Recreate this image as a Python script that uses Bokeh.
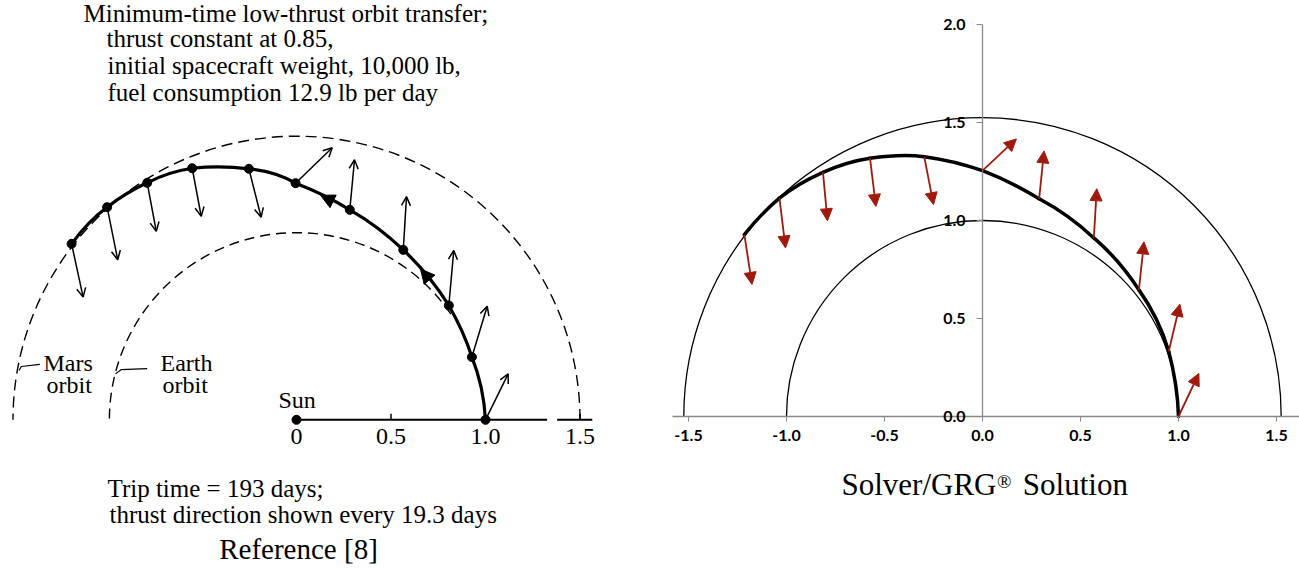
import math

from bokeh.core.properties import value
from bokeh.embed import file_html
from bokeh.layouts import row
from bokeh.models import (Arrow, ColumnDataSource, FixedTicker, Label, LinearAxis,
                          NormalHead, NumeralTickFormatter, OpenHead, Range1d)
from bokeh.plotting import figure
from bokeh.resources import INLINE

SERIF = "Liberation Serif"
SANS = "Lato"
RED = "#A0190D"
AXIS_GRAY = "#898989"

# ---------------------------------------------------------------------------
# Published solution, Reference [8] (distances in AU, Sun at origin)
# ---------------------------------------------------------------------------
ref_earth_r = 0.99
ref_mars_r = 1.50

# trajectory samples: thrust nodes alternating with readings midway between them
ref_path_x = [1.000, 0.977, 0.928, 0.876, 0.806, 0.694, 0.565, 0.427, 0.282, 0.145, -0.005,
              -0.120, -0.252, -0.402, -0.552, -0.676, -0.790, -0.899, -1.002, -1.099, -1.190]
ref_path_y = [0.000, 0.172, 0.332, 0.468, 0.605, 0.761, 0.899, 1.016, 1.111, 1.187, 1.252,
              1.302, 1.328, 1.338, 1.331, 1.302, 1.254, 1.196, 1.125, 1.040, 0.931]

# thrust nodes, every 19.3 days
ref_node_x = ref_path_x[::2]
ref_node_y = ref_path_y[::2]
# tips of the thrust-direction vectors
ref_thrust_x = [1.120, 1.009, 0.832, 0.582, 0.307, 0.189, -0.187, -0.504, -0.742, -0.946, -1.129]
ref_thrust_y = [0.243, 0.601, 0.896, 1.181, 1.376, 1.439, 1.072, 1.077, 0.998, 0.847, 0.649]

# direction-of-motion heads on the path
ref_dir_tail_x = [0.199, 0.707]
ref_dir_tail_y = [1.153, 0.738]
ref_dir_tip_x = [0.127, 0.656]
ref_dir_tip_y = [1.188, 0.798]

ref_axis_ticks = [0.0, 0.5, 1.0, 1.5]
ref_axis_labels = ["0", "0.5", "1.0", "1.5"]

# ---------------------------------------------------------------------------
# Solver/GRG solution
# ---------------------------------------------------------------------------
grg_orbit_r = [1.0, 1.524]

grg_path_x = [1.000, 0.985, 0.950, 0.887, 0.798, 0.690, 0.568, 0.434, 0.289, 0.144, 0.000,
              -0.147, -0.297, -0.421, -0.574, -0.694, -0.814, -0.933, -1.036, -1.130, -1.215]
grg_path_y = [0.000, 0.166, 0.332, 0.496, 0.646, 0.790, 0.911, 1.021, 1.111, 1.191, 1.254,
              1.297, 1.325, 1.331, 1.318, 1.291, 1.246, 1.185, 1.114, 1.026, 0.928]

grg_node_x = grg_path_x[::2]
grg_node_y = grg_path_y[::2]
grg_thrust_x = [1.104, 1.007, 0.824, 0.583, 0.314, 0.173, -0.250, -0.544, -0.791, -1.005, -1.176]
grg_thrust_y = [0.220, 0.573, 0.891, 1.162, 1.355, 1.416, 1.081, 1.072, 0.999, 0.860, 0.674]

grg_x_ticks = [-1.5, -1.0, -0.5, 0.0, 0.5, 1.0, 1.5]
grg_y_ticks = [0.0, 0.5, 1.0, 1.5, 2.0]

H = 571
# the rendered alphabetic baseline sits this fraction of the font size below the anchor
BASELINE_FIX = 0.38


def add_label(p, text, px, py, size, font=SERIF, align="left", left=0):
    """Place a text by its baseline position on the canvas (px from the left, py from the top)."""
    py_anchor = py - BASELINE_FIX * size
    p.add_layout(Label(x=px - left, y=H - py_anchor, x_units="screen", y_units="screen",
                       text=text, text_font=font, text_font_size=f"{size}px",
                       text_align=align, text_baseline="alphabetic", text_color="black"))


def smooth_path(p, xs, ys, **line):
    """Draw node-mid-node triples as quadratic curves passing through all three samples."""
    x0, y0, x1, y1, cx, cy = [], [], [], [], [], []
    for i in range(0, len(xs) - 2, 2):
        sx, sy = xs[i], ys[i]
        mx, my = xs[i + 1], ys[i + 1]
        ex, ey = xs[i + 2], ys[i + 2]
        x0.append(sx); y0.append(sy); x1.append(ex); y1.append(ey)
        cx.append(2 * mx - (sx + ex) / 2)
        cy.append(2 * my - (sy + ey) / 2)
    p.quadratic(x0=x0, y0=y0, x1=x1, y1=y1, cx=cx, cy=cy, line_cap="round", **line)


# ---------------------------------------------------------------------------
# Left panel
# ---------------------------------------------------------------------------
W1 = 660
PX1 = 189.0            # pixels per AU
SUN_SX, AXIS_SY = 296.0, 419.3

p1 = figure(width=W1, height=H, output_backend="svg", toolbar_location=None,
            x_range=Range1d(-SUN_SX / PX1, (W1 - SUN_SX) / PX1),
            y_range=Range1d(-(H - AXIS_SY) / PX1, AXIS_SY / PX1),
            x_axis_location=None, y_axis_location=None, min_border=0)
p1.grid.visible = False
p1.outline_line_color = None

# orbits
p1.arc(x=0, y=0, radius=ref_mars_r, start_angle=0, end_angle=math.pi,
       line_color="black", line_width=1.4, line_dash="11 6")
p1.arc(x=0, y=0, radius=ref_earth_r, start_angle=0.6, end_angle=math.pi,
       line_color="black", line_width=1.4, line_dash="10 6")

# Sun-line scale
p1.segment(x0=[0.0, 1.379], y0=[0, 0], x1=[1.326, 1.565], y1=[0, 0],
           line_color="black", line_width=2)
p1.segment(x0=ref_axis_ticks[1::2], y0=[0, 0], x1=ref_axis_ticks[1::2], y1=[0.032, 0.032],
           line_color="black", line_width=1.5)
p1.text(x=ref_axis_ticks, y=[0] * len(ref_axis_ticks), text=ref_axis_labels,
        y_offset=26 - BASELINE_FIX * 24,
        text_align="center", text_baseline="alphabetic",
        text_font=value(SERIF), text_font_size="24px", text_color="black")

# label leaders
p1.line([-1.468, -1.456, -1.358], [0.261, 0.282, 0.293], line_color="black", line_width=1.2)
p1.line([-0.958, -0.928, -0.790], [0.243, 0.265, 0.271], line_color="black", line_width=1.2)

# trajectory
smooth_path(p1, ref_path_x, ref_path_y, line_color="black", line_width=3.2)

ref_src = ColumnDataSource(dict(x0=ref_node_x, y0=ref_node_y, x1=ref_thrust_x, y1=ref_thrust_y))
p1.add_layout(Arrow(source=ref_src, x_start="x0", y_start="y0", x_end="x1", y_end="y1",
                    line_color="black", line_width=1.5,
                    end=OpenHead(size=9, line_color="black", line_width=1.5)))

dir_src = ColumnDataSource(dict(x0=ref_dir_tail_x, y0=ref_dir_tail_y,
                                x1=ref_dir_tip_x, y1=ref_dir_tip_y))
p1.add_layout(Arrow(source=dir_src, x_start="x0", y_start="y0", x_end="x1", y_end="y1",
                    line_alpha=0,
                    end=NormalHead(size=14, fill_color="black", line_color="black",
                                   line_width=1)))

p1.scatter(ref_node_x, ref_node_y, size=9, color="black")
p1.scatter([0], [0], size=9, color="black")

# texts
add_label(p1, "Minimum-time low-thrust orbit transfer;", 83, 22, 25)
add_label(p1, "thrust constant at 0.85,", 106, 47.3, 25)
add_label(p1, "initial spacecraft weight, 10,000 lb,", 107, 74.5, 25)
add_label(p1, "fuel consumption 12.9 lb per day", 107, 101.7, 25)
add_label(p1, "Mars", 43, 371.7, 24)
add_label(p1, "orbit", 46, 394, 24)
add_label(p1, "Earth", 160, 371.7, 24)
add_label(p1, "orbit", 162, 394, 24)
add_label(p1, "Sun", 278, 408.3, 24)
add_label(p1, "Trip time = 193 days;", 107, 497, 25)
add_label(p1, "thrust direction shown every 19.3 days", 109, 523.5, 25)
add_label(p1, "Reference [8]", 298, 560, 29, align="center")

# ---------------------------------------------------------------------------
# Right panel
# ---------------------------------------------------------------------------
W2 = 639
LEFT2 = 660                 # canvas offset of this panel
PX2 = 196.0                 # pixels per AU, both directions
ORIGIN_PX, ORIGIN_PY = 982.0 - LEFT2, 416.0

p2 = figure(width=W2, height=H, output_backend="svg", toolbar_location=None,
            x_range=Range1d(-ORIGIN_PX / PX2, (W2 - ORIGIN_PX) / PX2),
            y_range=Range1d(-(H - ORIGIN_PY) / PX2, ORIGIN_PY / PX2),
            x_axis_location=None, y_axis_location=None, min_border=0)
p2.grid.visible = False
p2.outline_line_color = None

axis_style = dict(axis_line_color=AXIS_GRAY, axis_line_width=1.3,
                  major_tick_line_color=AXIS_GRAY, major_tick_in=0,
                  minor_tick_line_color=None,
                  major_label_text_font=SANS, major_label_text_font_style="bold",
                  major_label_text_font_size="16px", major_label_text_color="black",
                  formatter=NumeralTickFormatter(format="0.0"))

xax = LinearAxis(fixed_location=0, bounds=(-(ORIGIN_PX - 11.5) / PX2, (W2 - ORIGIN_PX) / PX2),
                 ticker=FixedTicker(ticks=grg_x_ticks), major_tick_out=5,
                 major_label_standoff=8, **axis_style)
p2.add_layout(xax, "below")

yax = LinearAxis(fixed_location=0, bounds=(0, 2.0),
                 ticker=FixedTicker(ticks=grg_y_ticks), major_tick_out=6,
                 major_label_standoff=11, **axis_style)
p2.add_layout(yax, "left")

# Earth and Mars orbits
p2.arc(x=[0, 0], y=[0, 0], radius=grg_orbit_r, start_angle=0, end_angle=math.pi,
       line_color="black", line_width=1.3)

# trajectory
smooth_path(p2, grg_path_x, grg_path_y, line_color="black", line_width=3.5)

grg_src = ColumnDataSource(dict(x0=grg_node_x, y0=grg_node_y, x1=grg_thrust_x, y1=grg_thrust_y))
p2.add_layout(Arrow(source=grg_src, x_start="x0", y_start="y0", x_end="x1", y_end="y1",
                    line_color=RED, line_width=1.8,
                    end=NormalHead(size=12, fill_color=RED, line_color=RED, line_width=1)))

# caption
add_label(p2, "Solver/GRG", 841, 495.6, 31, left=LEFT2)
add_label(p2, "\u00ae", 996.5, 488.5, 19, left=LEFT2)
add_label(p2, "Solution", 1022.3, 495.6, 31, left=LEFT2)

layout = row(p1, p2)

with open("out.html", "w") as f:
    f.write(file_html(layout, INLINE))
